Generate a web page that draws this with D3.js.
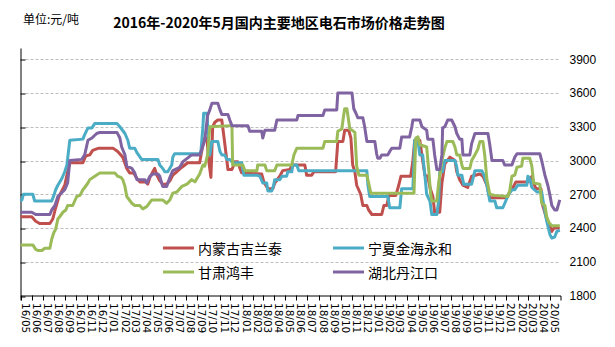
<!DOCTYPE html>
<html>
<head>
<meta charset="utf-8">
<script src="https://cdn.jsdelivr.net/npm/d3@7/dist/d3.min.js"></script>
<style>
  html, body { margin: 0; padding: 0; background: #fff; }
  svg { display: block; }
</style>
</head>
<body>
<svg id="chart" width="615" height="347"></svg>
<script>
// Weekly calcium carbide prices (yuan/ton), May 2016 – May 2020.
// Each point: [weeks since 2016-05-01, price]
const startDate = new Date(2016, 4, 1);
const endDate = new Date(2020, 4, 29);

const seriesNames = ["内蒙古吉兰泰", "宁夏金海永和", "甘肃鸿丰", "湖北丹江口"];
const seriesColors = ["#C0504D", "#4BACC6", "#9BBB59", "#8064A2"];

const neimengJilantai = [[0,2500],[4.45,2500],[6.03,2460],[7.6,2440],[11.54,2440],[12.72,2480],[13.91,2580],[15.09,2680],[17.45,2780],[18.63,2900],[19.42,2980],[24.54,2980],[25.72,3040],[27.3,3050],[28.48,3090],[30.84,3110],[36.36,3110],[38.33,3080],[40.3,3030],[41.87,2930],[43.06,2890],[44.63,2890],[45.81,2840],[47.0,2810],[49.36,2810],[50.15,2790],[50.93,2850],[52.12,2900],[52.9,2930],[53.69,2870],[54.87,2820],[56.06,2790],[57.63,2790],[58.81,2820],[59.99,2870],[61.57,2900],[63.54,2940],[65.9,2980],[70.63,2980],[71.81,3140],[72.6,3200],[73.39,3200],[74.18,3000],[74.96,2850],[75.75,3300],[76.54,3340],[77.72,3360],[79.3,3360],[80.08,3210],[81.27,3000],[81.66,2920],[83.24,2920],[84.02,2960],[84.42,2990],[85.6,2990],[86.39,2930],[87.18,2890],[95.05,2880],[95.84,2810],[97.42,2750],[99.39,2750],[100.17,2800],[102.14,2860],[103.33,2910],[106.08,2920],[106.87,2960],[111.99,2960],[112.78,2870],[114.75,2870],[115.54,2900],[124.2,2900],[124.99,3170],[126.96,3170],[127.75,3270],[129.32,3270],[130.11,3200],[130.9,2960],[131.69,2900],[132.48,2780],[134.05,2700],[134.84,2600],[136.41,2600],[137.2,2560],[138.38,2520],[142.32,2520],[143.11,2600],[144.29,2600],[145.08,2690],[147.84,2690],[149.02,2780],[149.81,2860],[153.75,2860],[154.54,3000],[155.32,3180],[157.29,3180],[158.47,3000],[159.26,2870],[160.44,2860],[161.23,2760],[162.41,2680],[163.2,2540],[165.17,2540],[165.96,2800],[167.14,2970],[169.11,3030],[171.08,3000],[171.87,2900],[173.05,2830],[174.23,2780],[176.2,2760],[177.78,2860],[180.93,2880],[182.11,2860],[183.69,2780],[184.87,2670],[191.56,2670],[192.75,2720],[193.93,2760],[195.11,2810],[199.84,2810],[201.41,2860],[202.2,2800],[202.99,2750],[204.96,2750],[205.75,2600],[207.32,2480],[208.5,2420],[209.29,2370],[210.08,2400],[212.44,2400]];

const ningxiaJinhai = [[0,2640],[0.51,2650],[1.1,2700],[4.85,2700],[5.63,2640],[12.33,2640],[13.12,2690],[13.91,2740],[14.69,2780],[16.27,2840],[17.45,2900],[18.24,2960],[19.03,3100],[19.42,3180],[24.54,3190],[25.33,3230],[26.51,3290],[28.09,3290],[29.27,3330],[37.94,3330],[39.12,3300],[41.09,3240],[42.27,3180],[43.06,3110],[45.03,3110],[45.81,3070],[47.78,3010],[54.09,3010],[54.87,2960],[56.06,2930],[56.84,2900],[58.03,2900],[59.6,2960],[59.99,3030],[60.78,3060],[71.02,3060],[71.81,3300],[72.21,3420],[73.39,3420],[74.18,3180],[74.57,3050],[75.36,3170],[77.72,3170],[78.51,3080],[79.3,3050],[80.48,3050],[81.27,3010],[82.45,3010],[83.63,2980],[87.18,2980],[87.96,2870],[93.08,2870],[94.27,2860],[95.45,2800],[97.02,2800],[97.42,2730],[98.99,2730],[99.78,2780],[100.17,2830],[102.14,2830],[102.93,2860],[104.9,2860],[105.3,2900],[106.87,2900],[107.27,2960],[108.84,2960],[109.63,2910],[136.41,2910],[136.81,2780],[137.6,2680],[144.69,2680],[145.48,2580],[149.41,2580],[150.2,2750],[154.54,2750],[155.32,3180],[156.51,3180],[157.29,3050],[158.47,3050],[159.26,2870],[160.05,2700],[161.23,2640],[162.02,2520],[163.99,2520],[164.78,2640],[165.17,2900],[166.35,2900],[167.14,3000],[171.08,3000],[171.87,2940],[172.26,2870],[173.84,2870],[174.63,2790],[177.78,2790],[178.56,2870],[178.96,2910],[181.72,2910],[182.5,2870],[183.69,2780],[184.87,2640],[186.84,2640],[187.62,2580],[189.99,2580],[191.17,2640],[192.35,2700],[193.53,2740],[194.72,2740],[195.9,2780],[199.44,2780],[199.84,2860],[200.62,2840],[201.41,2760],[203.38,2720],[205.35,2720],[206.14,2600],[207.32,2460],[208.5,2340],[209.29,2310],[210.47,2320],[211.26,2370],[212.44,2380]];

const gansuHongfeng = [[0,2250],[4.85,2250],[6.03,2210],[6.81,2200],[8.39,2200],[9.57,2220],[11.54,2220],[12.33,2300],[13.12,2360],[13.91,2390],[14.69,2480],[15.48,2500],[16.66,2540],[17.85,2560],[18.63,2600],[20.6,2600],[22.18,2680],[23.36,2690],[24.54,2740],[25.33,2760],[26.51,2800],[27.3,2830],[29.27,2860],[31.24,2890],[37.15,2890],[38.33,2860],[39.51,2850],[40.3,2830],[41.09,2770],[41.87,2680],[43.84,2620],[45.03,2600],[47.0,2600],[48.18,2570],[49.75,2590],[51.72,2650],[56.06,2650],[57.63,2620],[58.81,2650],[59.99,2710],[61.57,2720],[63.54,2770],[65.51,2790],[67.48,2830],[68.66,2810],[70.63,2880],[71.81,2960],[72.6,2950],[73.78,3050],[74.57,3300],[83.24,3310],[83.63,2960],[87.57,2960],[88.36,2910],[93.08,2910],[93.48,2960],[96.24,2960],[97.02,2910],[100.17,2910],[100.96,2960],[106.87,2960],[107.66,3050],[108.84,3110],[119.08,3110],[119.87,3170],[124.6,3170],[124.99,3260],[126.57,3280],[127.35,3400],[127.75,3460],[128.54,3460],[129.32,3350],[129.72,3280],[130.51,3270],[131.69,3250],[132.48,2950],[133.26,2870],[136.41,2870],[137.2,2800],[137.99,2710],[154.93,2710],[155.72,3200],[156.51,3210],[157.29,3140],[160.05,3120],[160.84,2900],[161.63,2700],[162.02,2640],[163.99,2640],[164.78,2800],[165.96,3000],[167.14,3110],[167.93,3170],[170.29,3170],[171.08,3120],[171.87,3050],[173.05,3050],[173.84,2960],[174.23,2930],[176.99,2930],[177.78,3000],[178.96,3050],[180.14,3100],[180.93,3170],[182.11,3170],[182.9,3050],[183.69,2830],[184.87,2700],[186.84,2690],[191.96,2680],[192.75,2730],[193.53,2860],[194.72,2870],[195.5,2940],[197.47,2950],[197.87,3020],[200.62,3020],[201.41,2950],[202.2,2800],[204.56,2790],[205.35,2620],[206.53,2600],[207.32,2500],[208.11,2450],[209.29,2420],[212.44,2420]];

const hubeiDanjiangkou = [[0,2540],[4.45,2540],[6.03,2520],[11.54,2520],[12.33,2560],[13.51,2600],[14.69,2680],[17.45,2740],[18.63,2800],[19.42,3000],[24.15,3010],[25.33,3050],[26.51,3180],[28.09,3200],[30.06,3240],[31.24,3250],[37.94,3250],[39.12,3200],[39.9,3120],[41.09,3050],[41.87,2950],[43.84,2930],[45.03,2890],[45.81,2830],[48.96,2830],[49.75,2800],[50.93,2860],[52.12,2880],[54.09,2880],[54.87,2860],[56.06,2770],[57.63,2770],[58.81,2850],[59.99,2910],[62.75,2940],[63.93,2990],[67.48,3050],[70.63,3050],[71.42,3100],[72.6,3180],[73.78,3400],[74.57,3450],[75.36,3510],[77.72,3510],[78.51,3450],[79.3,3410],[81.66,3410],[82.45,3360],[83.24,3310],[89.54,3310],[90.33,3260],[95.05,3260],[95.45,3200],[96.24,3270],[100.17,3270],[100.96,3360],[108.84,3360],[109.23,3400],[119.08,3400],[119.87,3450],[124.6,3450],[124.99,3600],[130.51,3600],[131.29,3460],[132.08,3420],[132.87,3380],[134.84,3380],[135.63,3300],[136.41,3170],[139.57,3170],[140.35,3060],[140.75,3020],[141.54,3020],[142.32,3050],[144.69,3050],[145.48,3080],[146.26,3110],[149.41,3110],[150.2,3210],[153.35,3210],[154.14,3300],[154.54,3360],[157.29,3360],[158.08,3300],[160.05,3270],[160.44,3190],[162.41,3190],[163.2,3050],[163.99,2920],[165.17,2920],[165.96,3050],[166.35,3290],[167.14,3300],[168.32,3360],[169.9,3360],[171.08,3300],[171.87,3240],[173.05,3190],[173.84,3190],[174.23,3050],[176.99,3050],[177.78,3150],[178.96,3240],[184.08,3240],[184.87,3140],[185.66,3000],[189.99,3000],[190.78,2960],[193.53,2960],[194.72,3030],[195.5,3060],[204.56,3060],[205.35,3000],[206.53,2870],[207.71,2780],[208.5,2690],[209.29,2600],[210.47,2560],[211.26,2560],[212.44,2650]];

const seriesData = [neimengJilantai, ningxiaJinhai, gansuHongfeng, hubeiDanjiangkou];

const yTicks = [1800, 2100, 2400, 2700, 3000, 3300, 3600, 3900];
const monthLabels = [
  "16/05","16/06","16/07","16/08","16/09","16/10","16/11","16/12",
  "17/01","17/02","17/03","17/04","17/05","17/06","17/07","17/08","17/09","17/10","17/11","17/12",
  "18/01","18/02","18/03","18/04","18/05","18/06","18/07","18/08","18/09","18/10","18/11","18/12",
  "19/01","19/02","19/03","19/04","19/05","19/06","19/07","19/08","19/09","19/10","19/11","19/12",
  "20/01","20/02","20/03","20/04","20/05"
];

const titleText = "2016年-2020年5月国内主要地区电石市场价格走势图";
const unitText = "单位:元/吨";

// ---- layout ----
const plot = { left: 20.5, right: 560.5, top: 48, bottom: 295.5 };
const svg = d3.select("#chart");

const x = d3.scaleTime().domain([startDate, endDate]).range([plot.left, plot.right]);
const y = d3.scaleLinear().domain([1800, 4000]).range([plot.bottom, plot.top]);

const weekToDate = w => d3.timeDay.offset(startDate, Math.round(w * 7));

// gridlines
svg.append("g")
  .selectAll("line")
  .data(yTicks.filter(v => v > 1800))
  .join("line")
  .attr("x1", plot.left + 5)
  .attr("x2", plot.right)
  .attr("y1", d => Math.round(y(d)) + 0.5)
  .attr("y2", d => Math.round(y(d)) + 0.5)
  .attr("stroke", "#BDBDBD")
  .attr("stroke-width", 1)
  .attr("stroke-dasharray", "3,2");

// left axis line with inward ticks
const yAxisLeft = d3.axisRight(y).tickValues(yTicks).tickSize(5).tickSizeOuter(0).tickFormat("");
svg.append("g")
  .attr("transform", `translate(${plot.left},0)`)
  .call(yAxisLeft)
  .call(g => g.selectAll(".tick line").attr("stroke", "#000").attr("transform", d => `translate(0,${Math.round(y(d)) + 0.5 - y(d)})`))
  .call(g => g.select(".domain").attr("stroke", "#000"));

// right-hand value labels
const yAxisRight = d3.axisRight(y).tickValues(yTicks).tickSize(0).tickPadding(9).tickFormat(d3.format("d"));
svg.append("g")
  .attr("transform", `translate(${plot.right},0)`)
  .call(yAxisRight)
  .call(g => g.select(".domain").remove())
  .call(g => g.selectAll("text")
    .attr("fill", "#000")
    .style("font-family", "'Liberation Sans', Arial, sans-serif")
    .style("font-size", "12px"));

// bottom axis with monthly ticks
const monthTicks = d3.timeMonth.range(startDate, d3.timeMonth.offset(startDate, monthLabels.length));
const xAxis = d3.axisBottom(x)
  .tickValues(monthTicks)
  .tickSize(5)
  .tickSizeOuter(5)
  .tickFormat((d, i) => monthLabels[i]);
svg.append("g")
  .attr("transform", `translate(0,${plot.bottom})`)
  .call(xAxis)
  .call(g => g.select(".domain").attr("stroke", "#000"))
  .call(g => g.selectAll(".tick line").attr("stroke", "#000"))
  .call(g => g.selectAll(".tick").attr("transform", d => `translate(${Math.round(x(d)) + 0.5},0)`))
  .call(g => g.selectAll("text")
    .attr("fill", "#000")
    .attr("x", 7.5)
    .attr("y", -0.5)
    .attr("dy", "0")
    .attr("transform", "rotate(90)")
    .style("text-anchor", "start")
    .style("font-family", "'DejaVu Sans', sans-serif")
    .style("font-size", "10.5px"));

// series lines
const line = d3.line()
  .x(d => x(weekToDate(d[0])))
  .y(d => y(d[1]));

svg.append("g")
  .selectAll("path")
  .data(seriesData)
  .join("path")
  .attr("d", line)
  .attr("fill", "none")
  .attr("stroke", (d, i) => seriesColors[i])
  .attr("stroke-width", 3)
  .attr("stroke-linejoin", "round")
  .attr("stroke-linecap", "butt");

// legend (2 x 2)
const legendPos = [[163, 248], [333, 248], [163, 272], [333, 272]];
const legend = svg.append("g")
  .selectAll("g")
  .data(seriesNames)
  .join("g")
  .attr("transform", (d, i) => `translate(${legendPos[i][0]},${legendPos[i][1]})`);
legend.append("line")
  .attr("x1", 0).attr("x2", 31)
  .attr("y1", 0).attr("y2", 0)
  .attr("stroke", (d, i) => seriesColors[i])
  .attr("stroke-width", 3);
legend.append("text")
  .attr("x", 35)
  .attr("y", 5.5)
  .text(d => d)
  .style("font-family", "'Noto Sans CJK SC', sans-serif")
  .style("font-size", "14px")
  .attr("fill", "#000");

// title and unit
svg.append("text")
  .attr("x", 279)
  .attr("y", 28)
  .attr("text-anchor", "middle")
  .style("font-family", "'Noto Sans CJK SC', sans-serif")
  .style("font-size", "14px")
  .style("font-weight", "bold")
  .attr("fill", "#000")
  .text(titleText);

svg.append("text")
  .attr("x", 23)
  .attr("y", 24)
  .style("font-family", "'Noto Sans CJK SC', sans-serif")
  .style("font-size", "12px")
  .attr("fill", "#000")
  .text(unitText);
</script>
</body>
</html>
